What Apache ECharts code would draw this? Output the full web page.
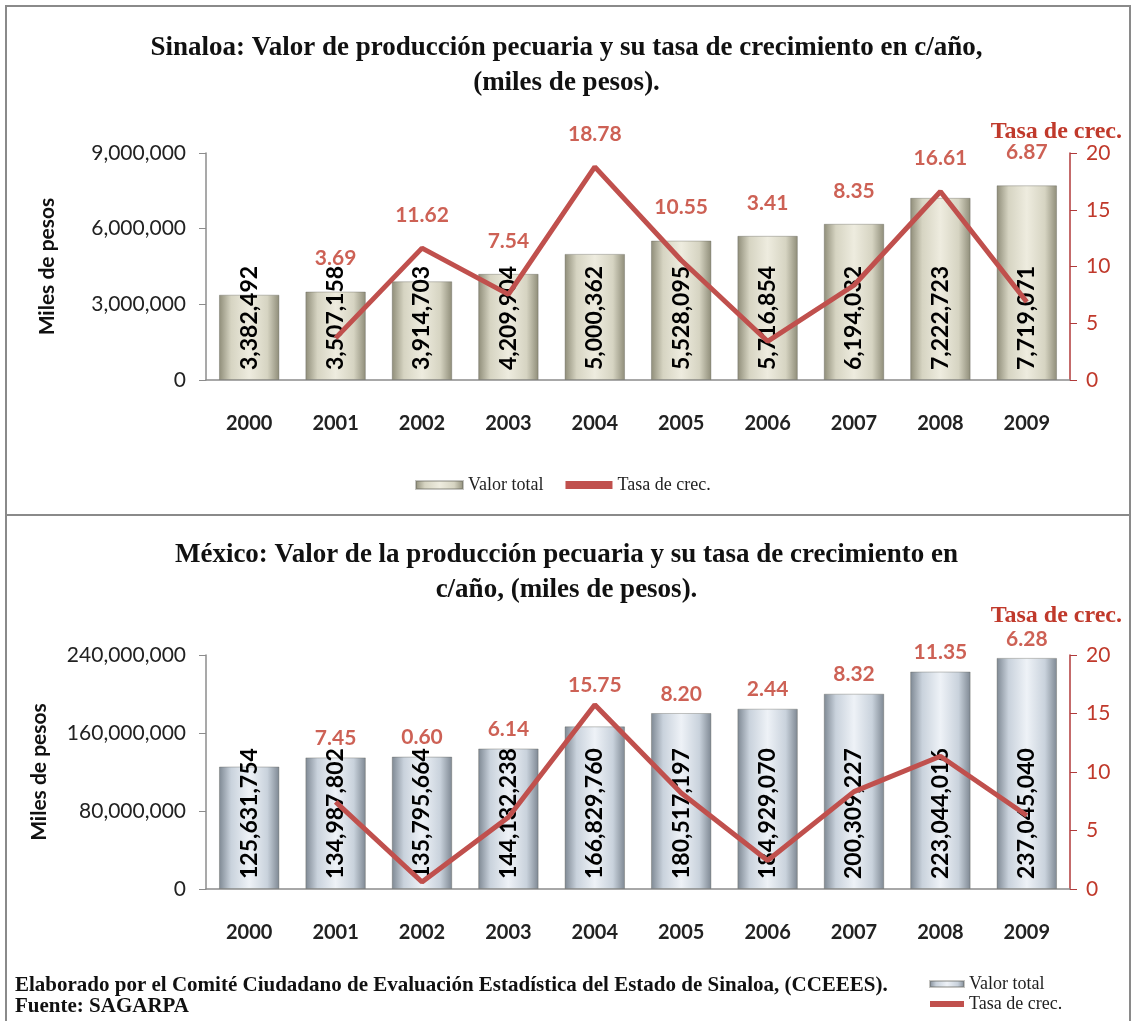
<!DOCTYPE html>
<html>
<head>
<meta charset="utf-8">
<title>Sinaloa / México - producción pecuaria</title>
<script src="https://cdn.jsdelivr.net/npm/echarts@6/dist/echarts.min.js"></script>
<style>
html,body{margin:0;padding:0;background:#fff;}
#chart{width:1133px;height:1021px;}
</style>
</head>
<body>
<div id="chart"></div>
<script>
// datos
const years = ['2000','2001','2002','2003','2004','2005','2006','2007','2008','2009'];
const sinaloaValor = [3382492,3507158,3914703,4209904,5000362,5528095,5716854,6194032,7222723,7719071];
const sinaloaTasa = ['-',3.69,11.62,7.54,18.78,10.55,3.41,8.35,16.61,6.87];
const mexicoValor = [125631754,134987802,135795664,144132238,166829760,180517197,184929070,200309227,223044016,237045040];
const mexicoTasa = ['-',7.45,0.60,6.14,15.75,8.20,2.44,8.32,11.35,6.28];
const sinaloaTicks = [0,3000000,6000000,9000000];
const mexicoTicks = [0,80000000,160000000,240000000];
const tasaTicks = [0,5,10,15,20];

const chart = echarts.init(document.getElementById('chart'));

const sans = 'Lato';
const serif = 'Liberation Serif';
const red = '#c0504d';
const redText = '#c0392b';
const gray = '#8c8c8c';

function barGrad(c){
    return new echarts.graphic.LinearGradient(0,0,1,0,[
        {offset:0,color:c[0]},
        {offset:0.2,color:c[1]},
        {offset:0.5,color:c[2]},
        {offset:0.8,color:c[1]},
        {offset:1,color:c[0]}
    ]);
}
const beige = barGrad(['#8e8c78','#d6d4c2','#eeecdf']);
const azul = barGrad(['#7d8792','#c9d2dc','#eef2f7']);

// punto de etiqueta: encima de la barra o de la linea, lo que quede mas alto
function labelAnchor(valor, tasa, vmax){
    return valor.map((v,i)=>{
        if(tasa[i] === '-') return '-';
        return Math.max(v, tasa[i] / tasaTicks[tasaTicks.length-1] * vmax);
    });
}

function leftAxis(grid, ticks){
    return {
        type:'value', gridIndex:grid, min:0, max:ticks[ticks.length-1],
        interval:ticks[1]-ticks[0],
        name:'Miles de pesos', nameLocation:'middle', nameGap: grid ? 156 : 148,
        nameTextStyle:{fontFamily:sans,fontWeight:'bold',fontSize:21,color:'#111'},
        axisLine:{show:true,lineStyle:{color:gray,width:1.5}},
        axisTick:{show:true,length:7,lineStyle:{color:gray}},
        axisLabel:{fontFamily:sans,fontSize:21,color:'#222',margin:20,
            formatter:v=>v.toLocaleString('en-US')},
        splitLine:{show:false}
    };
}
function rightAxis(grid){
    return {
        type:'value', gridIndex:grid, min:0, max:tasaTicks[tasaTicks.length-1],
        interval:tasaTicks[1]-tasaTicks[0], position:'right',
        axisLine:{show:true,lineStyle:{color:'#b03a3a',width:1.5}},
        axisTick:{show:true,length:7,lineStyle:{color:'#b03a3a'}},
        axisLabel:{fontFamily:sans,fontSize:21,color:redText,margin:16},
        splitLine:{show:false}
    };
}
function catAxis(grid){
    return {
        type:'category', gridIndex:grid, data:years,
        axisLine:{lineStyle:{color:gray,width:1.5}},
        axisTick:{length:8,lineStyle:{color:gray}},
        axisLabel:{fontFamily:sans,fontWeight:'bold',fontSize:20,color:'#222',margin:34}
    };
}
function barSeries(name, data, grid, color){
    return {
        name:name, type:'bar', xAxisIndex:grid, yAxisIndex:grid*2,
        data:data, barWidth:'70%',
        itemStyle:{color:color,borderColor:'rgba(90,90,80,0.35)',borderWidth:1},
        label:{show:true,position:'insideBottom',rotate:90,align:'left',verticalAlign:'middle',
            distance:10,fontFamily:sans,fontWeight:'bold',fontSize:23,color:'#000',
            formatter:p=>p.value.toLocaleString('en-US')},
        z:2
    };
}
function lineSeries(name, data, grid){
    return {
        name:name, type:'line', xAxisIndex:grid, yAxisIndex:grid*2+1,
        data:data, showSymbol:false, symbol:'none',
        lineStyle:{color:red,width:5}, itemStyle:{color:red}, z:3
    };
}
function rateLabels(anchor, tasa, grid, dist){
    return {
        name:'etiquetas'+grid, type:'scatter', xAxisIndex:grid, yAxisIndex:grid*2,
        data:anchor, symbolSize:1, itemStyle:{color:'transparent'}, silent:true,
        label:{show:true,position:'top',distance:dist,fontFamily:sans,fontWeight:'bold',
            fontSize:21,color:redText,
            formatter:p=>tasa[p.dataIndex].toFixed(2)},
        z:4
    };
}

const option = {
    backgroundColor:'#fff',
    animation:false,
    title:[
        {text:'Sinaloa: Valor de producción pecuaria y su tasa de crecimiento en c/año,\n(miles de pesos).',
            left:'center',top:26,
            textStyle:{fontFamily:serif,fontWeight:'bold',fontSize:27,color:'#111',lineHeight:35,align:'center'}},
        {text:'Tasa de crec.',right:6,top:115,
            textStyle:{fontFamily:serif,fontWeight:'bold',fontSize:24,color:redText}},
        {text:'México: Valor de la producción pecuaria y su tasa de crecimiento en\nc/año, (miles de pesos).',
            left:'center',top:533,
            textStyle:{fontFamily:serif,fontWeight:'bold',fontSize:27,color:'#111',lineHeight:35,align:'center'}},
        {text:'Tasa de crec.',right:6,top:599,
            textStyle:{fontFamily:serif,fontWeight:'bold',fontSize:24,color:redText}},
        {text:'Elaborado por el Comité Ciudadano de Evaluación Estadística del Estado de Sinaloa, (CCEEES).\nFuente: SAGARPA',
            left:10,top:970,
            textStyle:{fontFamily:serif,fontWeight:'bold',fontSize:21,color:'#111',lineHeight:21}}
    ],
    legend:[
        {data:['Valor total','Tasa de crec.'],left:410,top:471,icon:'rect',
            itemWidth:47,itemHeight:8,itemGap:22,
            textStyle:{fontFamily:serif,fontSize:18,color:'#222'}},
        {data:['Valor total (México)','Tasa de crec. (México)'],left:925,top:971,orient:'vertical',
            icon:'rect',itemWidth:34,itemHeight:6,itemGap:2,padding:[4,4,0,4],
            formatter:n=>n.replace(' (México)',''),
            textStyle:{fontFamily:serif,fontSize:18,color:'#222'}}
    ],
    grid:[
        {left:206,right:63,top:153,height:227},
        {left:206,right:63,top:655,height:234}
    ],
    xAxis:[catAxis(0),catAxis(1)],
    yAxis:[leftAxis(0,sinaloaTicks),rightAxis(0),leftAxis(1,mexicoTicks),rightAxis(1)],
    series:[
        barSeries('Valor total',sinaloaValor,0,beige),
        lineSeries('Tasa de crec.',sinaloaTasa,0),
        rateLabels(labelAnchor(sinaloaValor,sinaloaTasa,sinaloaTicks[3]),sinaloaTasa,0,22),
        barSeries('Valor total (México)',mexicoValor,1,azul),
        lineSeries('Tasa de crec. (México)',mexicoTasa,1),
        rateLabels(labelAnchor(mexicoValor,mexicoTasa,mexicoTicks[3]),mexicoTasa,1,8)
    ],
    graphic:[
        {type:'rect',shape:{x:6,y:6,width:1124,height:509},silent:true,z:-1,
            style:{fill:'none',stroke:'#8a8a8a',lineWidth:2}},
        {type:'rect',shape:{x:6,y:515,width:1124,height:520},silent:true,z:-1,
            style:{fill:'none',stroke:'#8a8a8a',lineWidth:2}}
    ]
};
chart.setOption(option);
</script>
</body>
</html>
